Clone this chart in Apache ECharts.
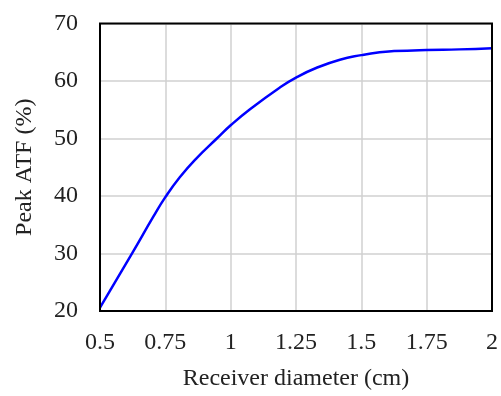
<!DOCTYPE html>
<html><head><meta charset="utf-8">
<script src="https://cdn.jsdelivr.net/npm/echarts@6/dist/echarts.min.js"></script>
<style>html,body{margin:0;padding:0;background:#fff}#c{width:501px;height:396px}</style>
</head><body><div id="c"></div>
<script>
const diameters = [0.5, 0.625, 0.704, 0.75, 0.806, 0.870, 0.947, 1.0, 1.074, 1.189, 1.25, 1.329, 1.418, 1.5, 1.57, 1.625, 1.75, 1.875, 2.0];
const peakATF = [20.6, 30.2, 36.4, 39.8, 43.3, 46.6, 50.0, 52.3, 55.1, 58.9, 60.6, 62.3, 63.7, 64.5, 65.0, 65.2, 65.4, 65.5, 65.7];
const xTicks = [0.5, 0.75, 1, 1.25, 1.5, 1.75, 2];
const yTicks = [20, 30, 40, 50, 60, 70];
const font = 'Liberation Serif';
const chart = echarts.init(document.getElementById('c'));
chart.setOption({
  animation: false,
  grid: {left: 100, right: 9, top: 23.5, bottom: 81.5},
  xAxis: {
    type: 'value', min: 0.5, max: 2, interval: 0.25,
    name: 'Receiver diameter (cm)', nameLocation: 'middle', nameGap: 56,
    nameTextStyle: {fontFamily: font, fontSize: 24, color: '#222'},
    axisLine: {show: false},
    axisTick: {show: false},
    axisLabel: {fontFamily: font, fontSize: 24, color: '#222', margin: 20,
      formatter: v => String(v)},
    splitLine: {show: true, lineStyle: {color: '#d0d0d0', width: 1.5}}
  },
  yAxis: {
    type: 'value', min: 20, max: 70, interval: 10,
    name: 'Peak ATF (%)', nameLocation: 'middle', nameGap: 63,
    nameTextStyle: {fontFamily: font, fontSize: 24, color: '#222'},
    axisLine: {show: false},
    axisTick: {show: false},
    axisLabel: {fontFamily: font, fontSize: 24, color: '#222', margin: 22},
    splitLine: {show: true, lineStyle: {color: '#d0d0d0', width: 1.5}}
  },
  series: [{
    type: 'line', data: diameters.map((d, i) => [d, peakATF[i]]),
    smooth: 0.5, showSymbol: false,
    lineStyle: {color: '#0000ff', width: 2.5}
  }]
});
const p0 = chart.convertToPixel({gridIndex: 0}, [xTicks[0], yTicks[yTicks.length - 1]]);
const p1 = chart.convertToPixel({gridIndex: 0}, [xTicks[xTicks.length - 1], yTicks[0]]);
chart.setOption({
  graphic: [{
    type: 'rect', shape: {x: p0[0], y: p0[1], width: p1[0] - p0[0], height: p1[1] - p0[1]},
    style: {fill: 'none', stroke: '#000', lineWidth: 2}, z: 100
  }]
});
</script></body></html>
